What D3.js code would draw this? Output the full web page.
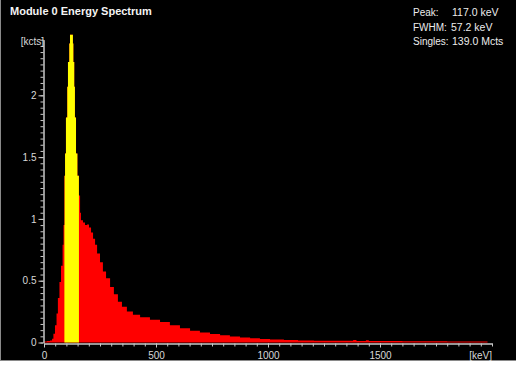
<!DOCTYPE html>
<html lang="en">
<head>
    <meta charset="UTF-8">
    <title>Module 0 Energy Spectrum</title>
    <script src="https://d3js.org/d3.v7.min.js"></script>
    <style>
        html, body {
            margin: 0;
            padding: 0;
            background: #fff;
        }
        svg {
            display: block;
            font-family: "Liberation Sans", Arial, sans-serif;
        }
        .axis path, .axis line {
            stroke: #c8c8c8;
        }
        .axis text {
            fill: #d8d8d8;
            font-size: 10px;
        }
    </style>
</head>
<body>
    <svg width="516" height="365"></svg>

    <script>
        // bin start energies [keV] and counts [kcts]
        const energy = [0, 13, 27, 36, 42, 49, 56, 62, 69, 76, 83, 87,
            91, 94, 98, 104, 107, 113, 116, 129, 131, 135, 138, 143, 149,
            156, 161, 165, 174, 183, 192, 201, 210, 219, 228, 237, 250, 263,
            277, 295, 312, 330, 348, 370, 397, 429, 473, 518, 562, 607, 652,
            696, 741, 786, 830, 875, 920, 964, 1009, 1071, 1134, 1205, 1295,
            1380, 1395, 1437, 1450, 1600, 1800];
        const counts = [0.008, 0.012, 0.016, 0.03, 0.07, 0.14, 0.235, 0.36, 0.49, 0.62, 0.79, 0.95,
            1.35, 1.53, 1.82, 2.07, 2.27, 2.42, 2.49, 2.42, 2.27, 2.07, 1.82, 1.53, 1.35,
            1.19, 1.05, 0.99, 0.97, 0.95, 0.955, 0.93, 0.89, 0.84, 0.79, 0.72, 0.65, 0.575,
            0.52, 0.45, 0.39, 0.33, 0.29, 0.25, 0.225, 0.205, 0.185, 0.165, 0.14, 0.115, 0.095,
            0.08, 0.068, 0.058, 0.048, 0.04, 0.034, 0.028, 0.024, 0.02, 0.017, 0.015, 0.014,
            0.02, 0.013, 0.019, 0.012, 0.01, 0.009];
        const lastEdge = 1980;

        // highlighted region of interest [keV]
        const roi = [91, 156];

        const xTicks = [0, 500, 1000, 1500];
        const yTicks = [0, 0.5, 1, 1.5, 2];

        const statLabels = ["Peak:", "FWHM:", "Singles:"];
        const statValues = ["117.0 keV", "57.2 keV", "139.0 Mcts"];

        const svg = d3.select("svg");

        // frame
        svg.append("rect")
            .attr("x", 0).attr("y", 0)
            .attr("width", 516).attr("height", 361)
            .attr("fill", "#000");
        svg.append("line")
            .attr("x1", 0).attr("x2", 516)
            .attr("y1", 360.5).attr("y2", 360.5)
            .attr("stroke", "#8a8a8a");
        svg.append("line")
            .attr("x1", 0.5).attr("x2", 0.5)
            .attr("y1", 0).attr("y2", 361)
            .attr("stroke", "#8a8a8a");

        const x = d3.scaleLinear().domain([0, 2000]).range([44, 492]);
        const y = d3.scaleLinear().domain([0, 2.45]).range([342.5, 39.7]);

        const data = energy.map((e, i) => ({ e: e, c: counts[i] }));
        data.push({ e: lastEdge, c: counts[counts.length - 1] });

        const area = d3.area()
            .curve(d3.curveStepAfter)
            .x(d => x(d.e))
            .y0(y(0))
            .y1(d => y(d.c));

        svg.append("path")
            .datum(data)
            .attr("fill", "#ff0000")
            .attr("d", area);

        svg.append("clipPath")
            .attr("id", "roi")
            .append("rect")
            .attr("x", x(roi[0]))
            .attr("y", 0)
            .attr("width", x(roi[1]) - x(roi[0]))
            .attr("height", 360);

        svg.append("path")
            .datum(data)
            .attr("fill", "#ffff00")
            .attr("clip-path", "url(#roi)")
            .attr("d", area);

        // y axis: minor ticks, then major ticks with labels
        svg.append("g")
            .attr("class", "axis")
            .attr("transform", "translate(43.5,0)")
            .call(d3.axisLeft(y).tickValues(d3.range(0, 2.451, 0.05)).tickSize(3).tickFormat("").tickSizeOuter(0));
        svg.append("g")
            .attr("class", "axis")
            .attr("transform", "translate(43.5,0)")
            .call(d3.axisLeft(y).tickValues(yTicks).tickSize(5).tickPadding(2).tickFormat(d3.format("")).tickSizeOuter(0));

        // x axis
        const xAxisY = y(0) + 1;
        svg.append("g")
            .attr("class", "axis")
            .attr("transform", `translate(0,${xAxisY})`)
            .call(d3.axisBottom(x).tickValues(d3.range(0, 2001, 50)).tickSize(3).tickFormat("").tickSizeOuter(0));
        svg.append("g")
            .attr("class", "axis")
            .attr("transform", `translate(0,${xAxisY})`)
            .call(d3.axisBottom(x).tickValues(xTicks).tickSize(4).tickPadding(4).tickFormat(d3.format("")).tickSizeOuter(0));

        // unit labels
        svg.append("text")
            .attr("x", 44).attr("y", 45)
            .attr("text-anchor", "end")
            .attr("fill", "#d8d8d8")
            .style("font-size", "10px")
            .text("[kcts]");
        svg.append("text")
            .attr("x", 492).attr("y", 359)
            .attr("text-anchor", "end")
            .attr("fill", "#d8d8d8")
            .style("font-size", "10px")
            .text("[keV]");

        // title
        svg.append("text")
            .attr("x", 10).attr("y", 15)
            .attr("fill", "#f4f4f4")
            .style("font-size", "11px")
            .style("font-weight", "bold")
            .text("Module 0 Energy Spectrum");

        // statistics box
        const valueX = [452, 451, 452];
        statLabels.forEach((s, i) => {
            svg.append("text")
                .attr("x", 413).attr("y", 16 + i * 14.5)
                .attr("fill", "#ececec")
                .style("font-size", "10px")
                .text(s);
            svg.append("text")
                .attr("x", valueX[i]).attr("y", 16 + i * 14.5)
                .attr("fill", "#ececec")
                .style("font-size", "10.5px")
                .text(statValues[i]);
        });
    </script>
</body>
</html>
